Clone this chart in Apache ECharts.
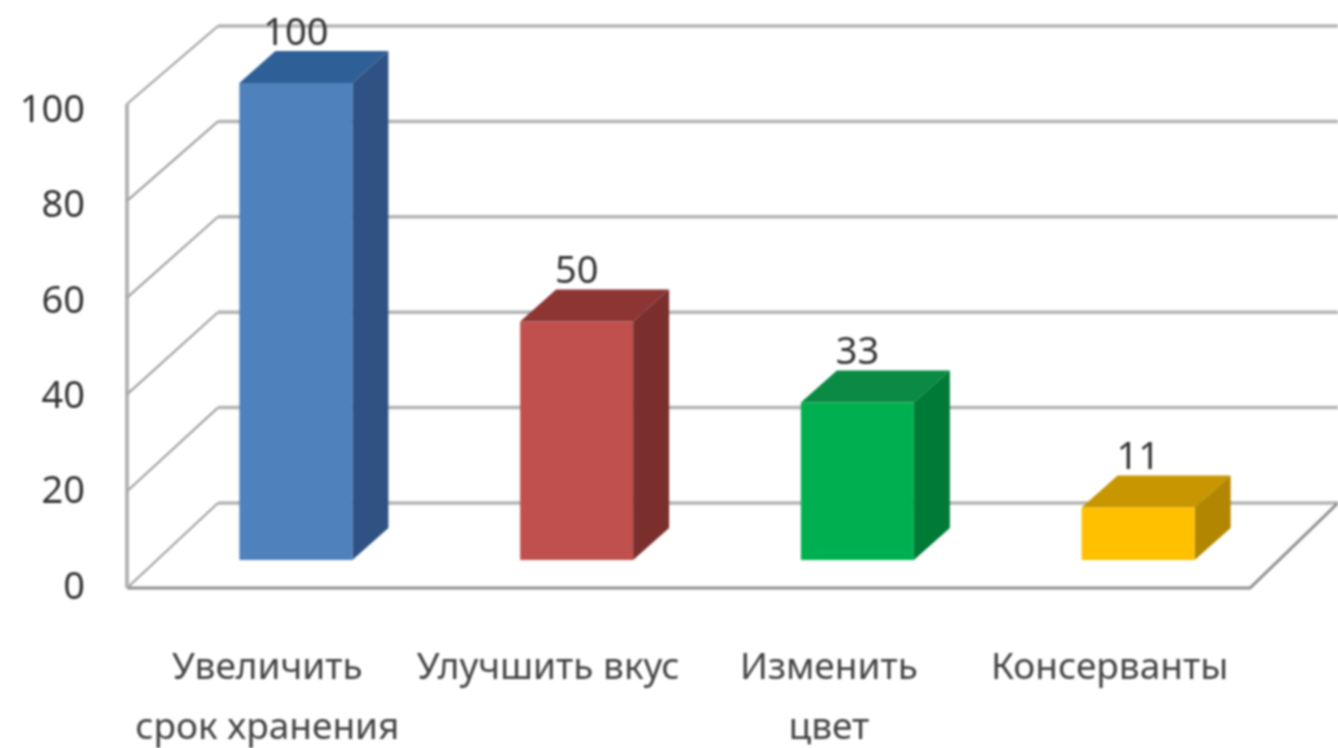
<!DOCTYPE html>
<html>
<head>
<meta charset="utf-8">
<script src="https://cdn.jsdelivr.net/npm/echarts@6/dist/echarts.min.js"></script>
<style>
html,body{margin:0;padding:0;background:#fff;overflow:hidden}
#c{width:1338px;height:748px;filter:blur(1px)}
</style>
</head>
<body>
<div id="c"></div>
<script>
const categories = ["Увеличить\nсрок хранения", "Улучшить вкус", "Изменить\nцвет", "Консерванты"];
const values = [100, 50, 33, 11];
const tickValues = [0, 20, 40, 60, 80, 100];
const frontColors = ["#4F81BD", "#C0504D", "#00B050", "#FFC000"];
const topColors = ["#2F5F97", "#8C3533", "#0A8A42", "#C89600"];
const sideColors = ["#2F5283", "#7A2F2D", "#007A37", "#B38600"];

const FONT = '"Noto Sans", sans-serif';
const WALL_DX = 91, WALL_DY = 85, WALL_SKEW = 7;
const BAR_DX = 36, BAR_DY = 32, BAR_LIFT = 28, BAR_W = 113, BAR_SHIFT = -28;
const WALL_COLOR = "#b4b4b4", SIDE_COLOR = "#a2a2a2", FLOOR_COLOR = "#8f8f8f";

function renderWall(params, api) {
  const v = api.value(1);
  const r = params.coordSys;
  const p = api.coord([0, v]);
  const y = p[1];
  const xL = r.x, xR = r.x + r.width;
  const frontY = y - WALL_SKEW * v / 100;
  const backY = y - WALL_DY;
  const children = [
    {
      type: "line",
      shape: { x1: xL, y1: frontY, x2: xL + WALL_DX, y2: backY },
      style: { stroke: SIDE_COLOR, lineWidth: 2.2 }
    },
    {
      type: "line",
      shape: { x1: xL + WALL_DX, y1: backY, x2: xR + WALL_DX, y2: backY },
      style: { stroke: WALL_COLOR, lineWidth: 3.5 }
    }
  ];
  if (v === 0) {
    children.push({
      type: "polyline",
      shape: { points: [[xL, y], [xR, y], [xR + WALL_DX - 3, backY]] },
      style: { fill: "none", stroke: FLOOR_COLOR, lineWidth: 3 }
    });
    children.push({
      type: "line",
      shape: { x1: xL, y1: r.y - WALL_SKEW, x2: xL, y2: y },
      style: { stroke: WALL_COLOR, lineWidth: 4 }
    });
  }
  return { type: "group", children };
}

function renderBar(params, api) {
  const i = api.value(0);
  const v = api.value(1);
  const top = api.coord([i, v]);
  const base = api.coord([i, 0]);
  const x0 = top[0] + BAR_SHIFT, x1 = x0 + BAR_W;
  const yT = top[1] - BAR_LIFT, yB = base[1] - BAR_LIFT;
  const poly = (pts, fill) => ({ type: "polygon", shape: { points: pts }, style: { fill } });
  return {
    type: "group",
    children: [
      poly([[x0, yT], [x0 + BAR_DX, yT - BAR_DY], [x1 + BAR_DX, yT - BAR_DY], [x1, yT]], topColors[i]),
      poly([[x1, yB], [x1 + BAR_DX, yB - BAR_DY], [x1 + BAR_DX, yT - BAR_DY], [x1, yT]], sideColors[i]),
      poly([[x0, yB], [x1, yB], [x1, yT], [x0, yT]], frontColors[i]),
      {
        type: "text",
        style: {
          x: (x0 + x1) / 2, y: yT - 49,
          text: String(v), align: "center", verticalAlign: "middle",
          fill: "#333", font: "38px " + FONT
        }
      }
    ]
  };
}

const chart = echarts.init(document.getElementById("c"), null, { renderer: "canvas" });
chart.setOption({
  animation: false,
  backgroundColor: "#fff",
  grid: { left: 127, right: 88, top: 111, bottom: 160, containLabel: false, outerBoundsMode: "none" },
  xAxis: {
    type: "category",
    data: categories,
    axisLine: { show: false },
    axisTick: { show: false },
    axisLabel: {
      interval: 0, margin: 50, color: "#444", fontFamily: FONT, fontSize: 37,
      lineHeight: 60, hideOverlap: false
    }
  },
  yAxis: {
    type: "value", min: 0, max: 100, interval: 20,
    axisLine: { show: false },
    axisTick: { show: false },
    splitLine: { show: false },
    axisLabel: { margin: 42, color: "#333", fontFamily: FONT, fontSize: 38, padding: [6, 0, 0, 0] }
  },
  series: [
    { type: "custom", renderItem: renderWall, z: 1, silent: true,
      data: tickValues.map(v => [0, v]) },
    { type: "custom", renderItem: renderBar, z: 2, silent: true,
      data: values.map((v, i) => [i, v]) }
  ]
});
</script>
</body>
</html>
